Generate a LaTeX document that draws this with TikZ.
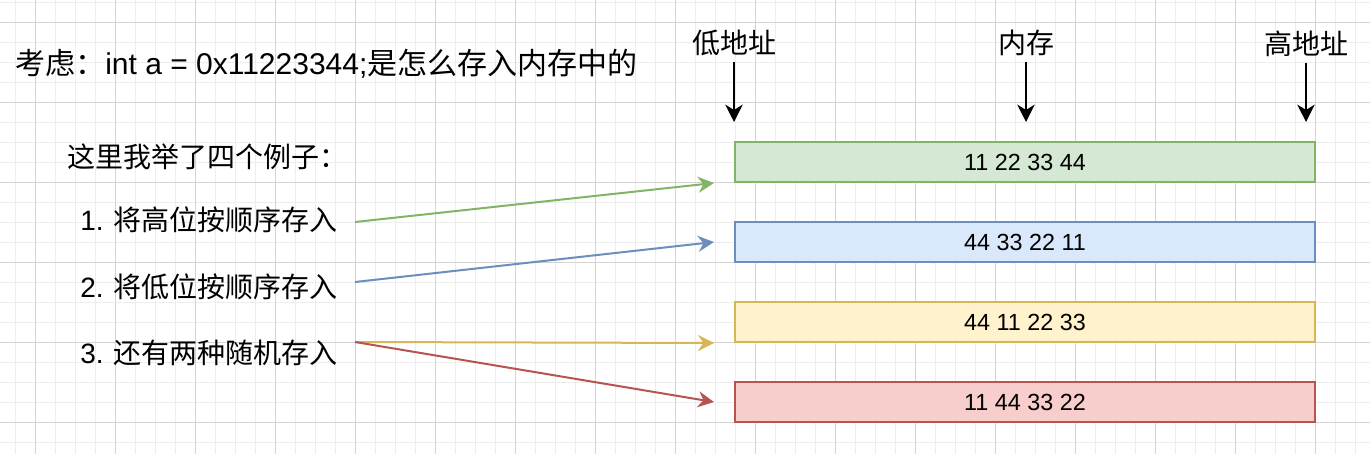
\documentclass[tikz,border=0pt]{standalone}
\usepackage{fontspec}
\setmainfont{Liberation Sans}
\newfontfamily\cjk{Noto Sans CJK SC}
\usetikzlibrary{arrows.meta}

\definecolor{gfill}{HTML}{D5E8D4}\definecolor{gline}{HTML}{82B366}
\definecolor{bfill}{HTML}{DAE8FC}\definecolor{bline}{HTML}{6C8EBF}
\definecolor{yfill}{HTML}{FFF2CC}\definecolor{yline}{HTML}{D6B656}
\definecolor{rfill}{HTML}{F8CECC}\definecolor{rline}{HTML}{B85450}
\definecolor{minorgrid}{HTML}{EDEDED}\definecolor{majorgrid}{HTML}{D4D4D4}

\tikzset{
  membox/.style={draw, line width=1.5pt, minimum width=435pt, minimum height=30pt,
    inner sep=0pt, font=\fontsize{17.5}{21}\selectfont},
  note/.style={anchor=west, inner sep=0pt, font=\fontsize{21}{25}\selectfont},
  addr/.style={inner sep=0pt, font=\fontsize{21}{25}\selectfont},
  darr/.style={-{Stealth[length=13pt, width=13pt, inset=4pt]}, line width=1.5pt, shorten <=4pt},
  carr/.style={-{Stealth[length=12pt, width=12pt, inset=4pt]}, line width=1.5pt},
}

\begin{document}
\begin{tikzpicture}[x=0.75pt, y=-0.75pt]
  \useasboundingbox[fill=white] (0,0) rectangle (1370,454);

  % grid
  \foreach \x in {15,35,...,1355} \draw[minorgrid, line width=0.75pt] (\x,0) -- (\x,454);
  \foreach \y in {2,22,...,442} \draw[minorgrid, line width=0.75pt] (0,\y) -- (1370,\y);
  \foreach \x in {35,115,...,1315} \draw[majorgrid, line width=0.75pt] (\x,0) -- (\x,454);
  \foreach \y in {22,102,...,422} \draw[majorgrid, line width=0.75pt] (0,\y) -- (1370,\y);

  % texts on the left
  \node[note, font=\fontsize{22.5}{27}\selectfont] (q) at (15,64)
    {{\cjk 考虑：}int a = 0x11223344;{\cjk 是怎么存入内存中的}};
  \node[note] (t0) at (67,157) {\cjk 这里我举了四个例子：};
  \node[note] (t1) at (80,220) {1. {\cjk 将高位按顺序存入}};
  \node[note] (t2) at (80,287) {2. {\cjk 将低位按顺序存入}};
  \node[note] (t3) at (80,353) {3. {\cjk 还有两种随机存入}};

  % memory
  \node[membox, fill=gfill, draw=gline] (m1) at (1025,162) {11 22 33 44};
  \node[membox, fill=bfill, draw=bline] (m2) at (1025,242) {44 33 22 11};
  \node[membox, fill=yfill, draw=yline] (m3) at (1025,322) {44 11 22 33};
  \node[membox, fill=rfill, draw=rline] (m4) at (1025,402) {11 44 33 22};

  % addresses
  \node[addr] (lo)  at (734,43)  {\cjk 低地址};
  \node[addr] (mem) at (1026,43) {\cjk 内存};
  \node[addr] (hi)  at (1306,44) {\cjk 高地址};
  \coordinate (loend)  at (734,122);
  \coordinate (memend) at (1026,122);
  \coordinate (hiend)  at (1306,122);
  \draw[darr] (lo.south)  -- (loend);
  \draw[darr] (mem.south) -- (memend);
  \draw[darr] (hi.south)  -- (hiend);

  % connectors
  \coordinate (s1) at (355,222);
  \coordinate (s2) at (355,282);
  \coordinate (s3) at (355,342);
  \draw[carr, gline] (s1) -- ([xshift=-15pt]m1.south west);
  \draw[carr, bline] (s2) -- ([xshift=-15pt]m2.west);
  \draw[carr, yline] (s3) -- ([xshift=-15pt]m3.south west);
  \draw[carr, rline] (s3) -- ([xshift=-15pt]m4.west);
\end{tikzpicture}
\end{document}
